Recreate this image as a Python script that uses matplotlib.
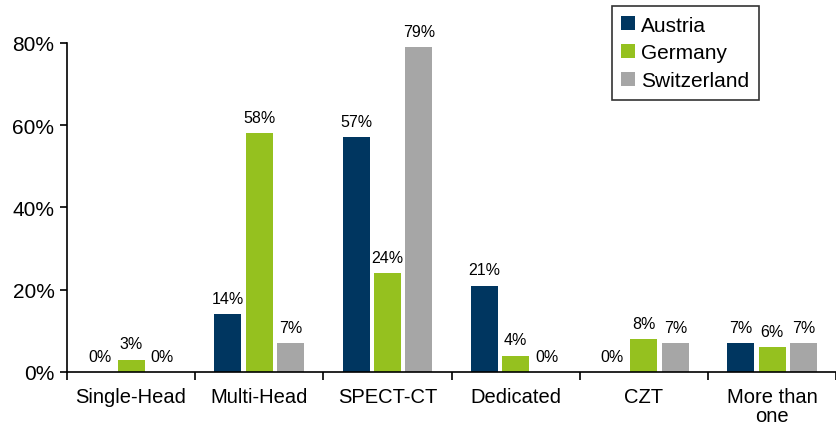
import numpy as np
import matplotlib.pyplot as plt

plt.rcParams['font.family'] = ['Liberation Sans', 'DejaVu Sans']

categories = ['Single-Head', 'Multi-Head', 'SPECT-CT', 'Dedicated', 'CZT', 'More than\none']
countries = ['Austria', 'Germany', 'Switzerland']
austria = [0, 14, 57, 21, 0, 7]
germany = [3, 58, 24, 4, 8, 6]
switzerland = [0, 7, 79, 0, 7, 7]
colors = ['#003660', '#95c11f', '#a6a6a6']

fig = plt.figure(figsize=(8.37, 4.27), dpi=100)
ax = fig.add_axes([0.080, 0.1265, 0.919, 0.771])

x = np.arange(len(categories))
width = 0.21
step = 0.245
for i, (vals, col, name) in enumerate(zip([austria, germany, switzerland], colors, countries)):
    pos = x + (i - 1) * step
    ax.bar(pos, np.array(vals) / 100, width, color=col, label=name)
    for p, v in zip(pos, vals):
        ax.text(p, v / 100 + 0.02, f'{v}%', ha='center', va='bottom', fontsize=11.5, clip_on=False)

ax.set_xlim(-0.5, len(categories) - 0.5)
ax.set_ylim(0, 0.8)
ax.set_yticks([0, 0.2, 0.4, 0.6, 0.8])
ax.set_yticklabels(['0%', '20%', '40%', '60%', '80%'], fontsize=15)
ax.set_xticks(x)
ax.set_xticklabels(categories, fontsize=14.5, linespacing=1.0)
ax.tick_params(axis='x', length=0, pad=11)
ax.set_xticks(np.arange(len(categories) + 1) - 0.5, minor=True)
ax.tick_params(axis='x', which='minor', length=6, width=1.2, direction='out')
ax.tick_params(axis='y', length=5, width=1.2, direction='out', pad=4)
for s in ['top', 'right']:
    ax.spines[s].set_visible(False)
ax.spines['left'].set_linewidth(1.2)
ax.spines['bottom'].set_linewidth(1.2)

leg = fig.legend(loc='upper left', bbox_to_anchor=(0.731, 0.983), fontsize=15,
                 frameon=True, fancybox=False, edgecolor='black', handlelength=0.65,
                 handleheight=0.65, handletextpad=0.3, borderpad=0.45, labelspacing=0.42,
                 borderaxespad=0)
leg.get_frame().set_linewidth(1.2)

fig.savefig('out.png', dpi=100)
